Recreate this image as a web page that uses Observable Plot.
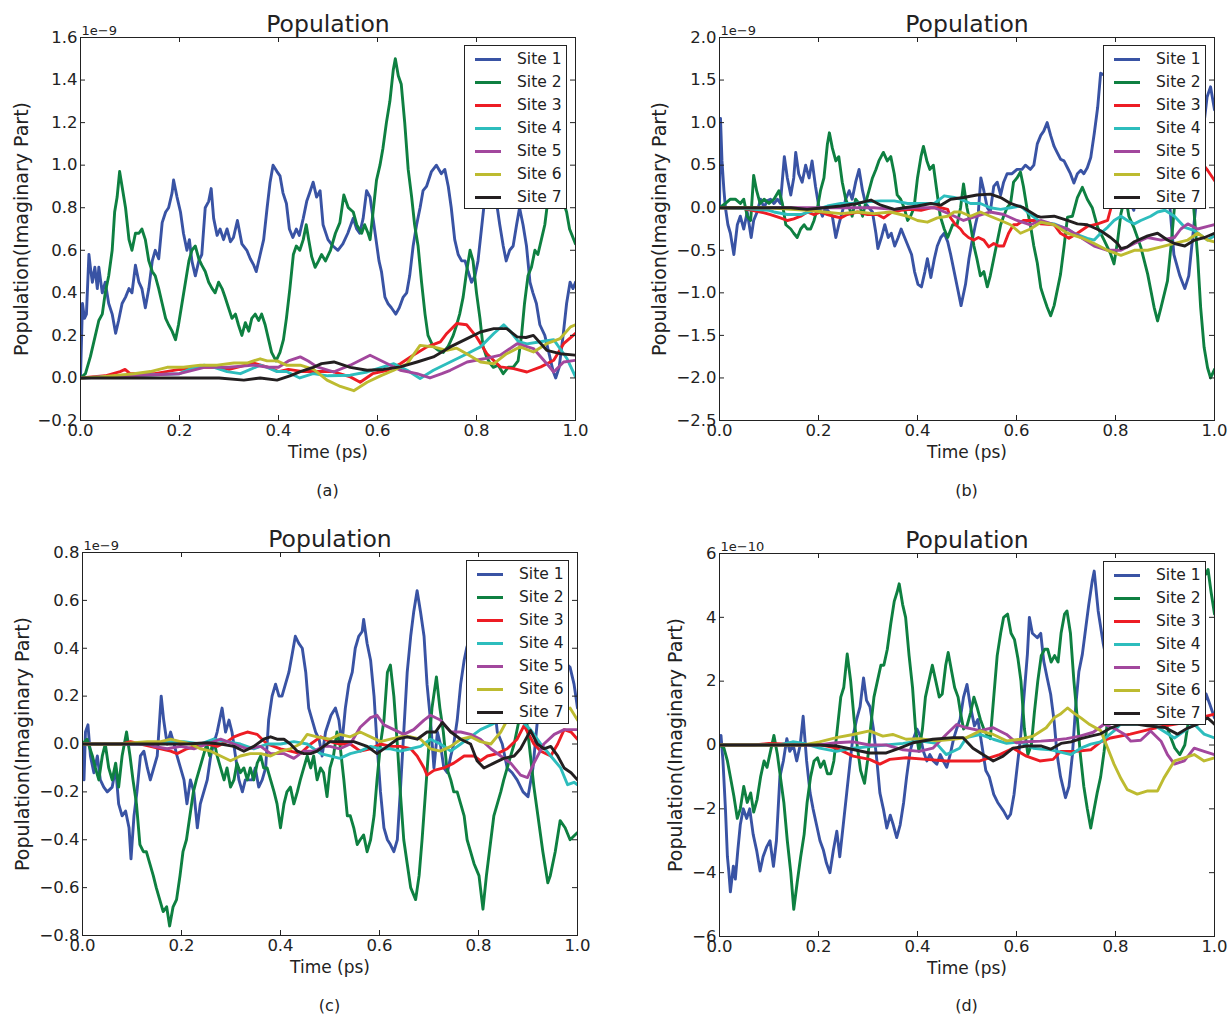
<!DOCTYPE html>
<html><head><meta charset="utf-8">
<script src="https://cdn.jsdelivr.net/npm/d3@7"></script>
<script src="https://cdn.jsdelivr.net/npm/@observablehq/plot@0.6"></script>
<style>
html,body{margin:0;padding:0;background:#fff;}
#page{position:relative;width:1228px;height:1016px;overflow:hidden;background:#fff;font-family:"DejaVu Sans",sans-serif;color:#222;}
.panel{position:absolute;}
.legend{position:absolute;background:#fff;border:1px solid #222;box-sizing:border-box;}
.legend .row{position:absolute;left:0;height:23px;width:100%;}
.legend .sw{position:absolute;left:10px;width:26px;height:3px;top:10px;}
.legend .lb{position:absolute;left:52px;top:1px;font-size:15.5px;line-height:20px;white-space:nowrap;}
.caption{position:absolute;font-size:16px;transform:translate(-50%,-50%);}
</style></head><body><div id="page"></div>
<script>
// ---- shared ----
const sites = ["Site 1","Site 2","Site 3","Site 4","Site 5","Site 6","Site 7"];
const colors = ["#3953a4","#0e8041","#ed1c24","#2dbdbd","#a2479d","#bdbb30","#231f20"];
const xTicks = [0,0.2,0.4,0.6,0.8,1.0];
const aYTicks = [-0.2,0,0.2,0.4,0.6,0.8,1.0,1.2,1.4,1.6];
const bYTicks = [-2.5,-2.0,-1.5,-1.0,-0.5,0,0.5,1.0,1.5,2.0];
const cYTicks = [-0.8,-0.6,-0.4,-0.2,0,0.2,0.4,0.6,0.8];
const dYTicks = [-6,-4,-2,0,2,4,6];

// ---- panel (a): [time ps, value in 1e-9] ----
const aS1 = [[0,0],[0.004,0.35],[0.008,0.28],[0.012,0.3],[0.017,0.58],[0.021,0.5],[0.024,0.45],[0.029,0.52],[0.034,0.42],[0.037,0.52],[0.044,0.40],[0.05,0.45],[0.057,0.35],[0.064,0.30],[0.071,0.21],[0.077,0.27],[0.084,0.35],[0.091,0.38],[0.098,0.42],[0.104,0.40],[0.111,0.53],[0.118,0.45],[0.124,0.42],[0.131,0.33],[0.138,0.42],[0.145,0.55],[0.151,0.60],[0.158,0.56],[0.165,0.73],[0.172,0.78],[0.178,0.80],[0.185,0.87],[0.188,0.93],[0.195,0.85],[0.202,0.78],[0.208,0.68],[0.215,0.60],[0.22,0.65],[0.225,0.55],[0.232,0.48],[0.239,0.55],[0.245,0.58],[0.252,0.80],[0.259,0.83],[0.264,0.89],[0.269,0.75],[0.276,0.67],[0.282,0.70],[0.289,0.65],[0.296,0.70],[0.303,0.64],[0.309,0.66],[0.317,0.74],[0.326,0.63],[0.336,0.60],[0.343,0.56],[0.35,0.53],[0.355,0.50],[0.363,0.58],[0.37,0.65],[0.377,0.80],[0.383,0.92],[0.389,1.00],[0.397,0.97],[0.403,0.95],[0.409,0.87],[0.416,0.82],[0.422,0.70],[0.429,0.66],[0.436,0.70],[0.442,0.67],[0.45,0.75],[0.457,0.83],[0.463,0.87],[0.47,0.92],[0.477,0.85],[0.484,0.88],[0.49,0.72],[0.5,0.65],[0.51,0.62],[0.52,0.60],[0.53,0.63],[0.54,0.68],[0.551,0.75],[0.558,0.70],[0.564,0.68],[0.571,0.75],[0.578,0.88],[0.585,0.85],[0.591,0.75],[0.597,0.65],[0.603,0.55],[0.608,0.50],[0.615,0.38],[0.621,0.35],[0.628,0.33],[0.637,0.30],[0.644,0.33],[0.652,0.38],[0.659,0.40],[0.665,0.48],[0.672,0.62],[0.679,0.72],[0.686,0.80],[0.692,0.88],[0.699,0.90],[0.709,0.97],[0.719,1.00],[0.729,0.96],[0.736,0.98],[0.743,0.90],[0.749,0.80],[0.756,0.65],[0.763,0.58],[0.77,0.55],[0.777,0.55],[0.783,0.50],[0.79,0.45],[0.797,0.48],[0.803,0.55],[0.81,0.70],[0.817,0.85],[0.825,0.92],[0.835,0.88],[0.842,0.8],[0.847,0.72],[0.854,0.62],[0.86,0.55],[0.867,0.60],[0.874,0.62],[0.881,0.72],[0.887,0.80],[0.894,0.72],[0.901,0.62],[0.908,0.45],[0.914,0.40],[0.921,0.35],[0.928,0.25],[0.938,0.20],[0.948,0.10],[0.955,0.03],[0.96,0.0],[0.967,0.05],[0.975,0.20],[0.982,0.35],[0.989,0.45],[0.995,0.42],[1.0,0.45]];
const aS2 = [[0,0],[0.01,0.02],[0.02,0.1],[0.03,0.2],[0.037,0.27],[0.044,0.30],[0.05,0.40],[0.057,0.48],[0.064,0.60],[0.069,0.78],[0.074,0.85],[0.079,0.97],[0.084,0.90],[0.091,0.80],[0.098,0.65],[0.104,0.60],[0.111,0.68],[0.118,0.68],[0.124,0.70],[0.131,0.65],[0.138,0.55],[0.145,0.50],[0.151,0.48],[0.158,0.42],[0.165,0.35],[0.172,0.28],[0.178,0.25],[0.185,0.22],[0.192,0.18],[0.198,0.25],[0.205,0.35],[0.212,0.45],[0.219,0.55],[0.225,0.60],[0.232,0.62],[0.239,0.56],[0.245,0.53],[0.252,0.50],[0.259,0.45],[0.266,0.42],[0.272,0.40],[0.279,0.45],[0.286,0.42],[0.292,0.38],[0.299,0.33],[0.306,0.28],[0.313,0.30],[0.319,0.25],[0.326,0.20],[0.333,0.26],[0.34,0.22],[0.346,0.28],[0.353,0.30],[0.36,0.27],[0.366,0.30],[0.373,0.25],[0.38,0.18],[0.386,0.12],[0.395,0.08],[0.403,0.12],[0.41,0.18],[0.416,0.28],[0.423,0.42],[0.43,0.58],[0.436,0.62],[0.443,0.60],[0.45,0.65],[0.456,0.72],[0.461,0.65],[0.467,0.57],[0.474,0.52],[0.481,0.55],[0.487,0.58],[0.495,0.55],[0.505,0.60],[0.515,0.68],[0.524,0.73],[0.532,0.86],[0.541,0.80],[0.551,0.78],[0.558,0.72],[0.568,0.68],[0.574,0.72],[0.581,0.68],[0.585,0.65],[0.591,0.78],[0.598,0.93],[0.605,1.0],[0.611,1.08],[0.618,1.20],[0.625,1.30],[0.632,1.45],[0.636,1.50],[0.642,1.42],[0.648,1.38],[0.655,1.20],[0.662,0.98],[0.669,0.85],[0.675,0.72],[0.682,0.62],[0.689,0.45],[0.696,0.30],[0.702,0.20],[0.712,0.15],[0.723,0.13],[0.733,0.12],[0.743,0.15],[0.753,0.20],[0.76,0.25],[0.766,0.30],[0.773,0.38],[0.78,0.50],[0.787,0.60],[0.793,0.55],[0.8,0.40],[0.807,0.28],[0.813,0.15],[0.82,0.10],[0.827,0.07],[0.834,0.05],[0.844,0.06],[0.854,0.02],[0.864,0.05],[0.874,0.05],[0.884,0.08],[0.891,0.20],[0.897,0.35],[0.904,0.48],[0.911,0.52],[0.918,0.60],[0.924,0.58],[0.931,0.65],[0.938,0.72],[0.945,0.85],[0.955,0.90],[0.968,0.88],[0.982,0.78],[0.988,0.70],[1.0,0.63]];
const aS3 = [[0,0],[0.05,0.01],[0.08,0.03],[0.09,0.04],[0.1,0.02],[0.15,0.02],[0.2,0.04],[0.25,0.05],[0.28,0.05],[0.3,0.04],[0.35,0.07],[0.38,0.05],[0.4,0.03],[0.42,0.04],[0.45,0.03],[0.48,0.03],[0.51,0.03],[0.545,0.005],[0.565,-0.02],[0.59,0.02],[0.62,0.036],[0.646,0.067],[0.672,0.107],[0.7,0.146],[0.727,0.17],[0.74,0.209],[0.76,0.256],[0.78,0.25],[0.8,0.193],[0.821,0.114],[0.848,0.052],[0.875,0.044],[0.902,0.028],[0.93,0.052],[0.956,0.083],[0.976,0.161],[1.0,0.209]];
const aS4 = [[0,0],[0.1,0.01],[0.2,0.02],[0.22,0.04],[0.25,0.06],[0.27,0.05],[0.296,0.03],[0.323,0.02],[0.363,0.06],[0.377,0.05],[0.397,0.03],[0.416,0.03],[0.443,0.0],[0.47,0.02],[0.5,0.01],[0.545,0.013],[0.579,0.028],[0.633,0.067],[0.66,0.036],[0.686,-0.003],[0.713,0.036],[0.747,0.075],[0.781,0.114],[0.808,0.146],[0.835,0.209],[0.855,0.25],[0.868,0.22],[0.885,0.17],[0.902,0.16],[0.929,0.17],[0.956,0.18],[0.983,0.09],[1.0,0.005]];
const aS5 = [[0,0],[0.1,0.01],[0.2,0.02],[0.25,0.05],[0.3,0.05],[0.35,0.06],[0.38,0.05],[0.4,0.05],[0.42,0.08],[0.444,0.099],[0.46,0.08],[0.478,0.052],[0.511,0.028],[0.545,0.06],[0.585,0.107],[0.62,0.067],[0.646,0.036],[0.68,0.02],[0.706,0.0],[0.73,0.02],[0.747,0.036],[0.781,0.075],[0.815,0.09],[0.848,0.107],[0.882,0.161],[0.915,0.138],[0.942,0.067],[0.956,0.028],[0.976,0.075],[1.0,0.083]];
const aS6 = [[0,0],[0.04,0.005],[0.108,0.02],[0.141,0.03],[0.175,0.05],[0.208,0.05],[0.242,0.06],[0.276,0.06],[0.31,0.07],[0.336,0.07],[0.363,0.09],[0.377,0.08],[0.397,0.08],[0.416,0.06],[0.444,0.06],[0.471,0.04],[0.498,-0.01],[0.525,-0.04],[0.552,-0.06],[0.579,-0.02],[0.606,0.01],[0.633,0.036],[0.66,0.067],[0.686,0.153],[0.713,0.146],[0.74,0.13],[0.76,0.14],[0.78,0.114],[0.808,0.075],[0.835,0.067],[0.861,0.114],[0.888,0.146],[0.915,0.122],[0.942,0.161],[0.969,0.185],[0.99,0.24],[1.0,0.25]];
const aS7 = [[0,0],[0.2,0.0],[0.24,0.0],[0.28,0.0],[0.33,-0.01],[0.363,0.0],[0.397,-0.01],[0.423,0.01],[0.444,0.03],[0.47,0.05],[0.487,0.067],[0.512,0.075],[0.545,0.05],[0.579,0.036],[0.612,0.04],[0.646,0.052],[0.68,0.075],[0.713,0.099],[0.747,0.146],[0.781,0.185],[0.808,0.216],[0.835,0.232],[0.861,0.232],[0.882,0.193],[0.9,0.19],[0.915,0.2],[0.942,0.13],[0.969,0.114],[1.0,0.107]];

// ---- panel (b): [time ps, value in 1e-9] ----
const bS1 = [[0,0],[0.002,1.05],[0.005,0.55],[0.009,0.2],[0.012,0.0],[0.017,-0.2],[0.022,-0.3],[0.029,-0.55],[0.036,-0.2],[0.042,-0.1],[0.049,-0.25],[0.056,-0.05],[0.064,-0.35],[0.069,-0.15],[0.076,-0.05],[0.083,0.1],[0.09,0.0],[0.096,0.08],[0.103,0.1],[0.11,0.05],[0.117,0.1],[0.123,0.05],[0.131,0.6],[0.137,0.35],[0.144,0.15],[0.15,0.35],[0.154,0.65],[0.16,0.4],[0.167,0.3],[0.174,0.5],[0.181,0.35],[0.187,0.55],[0.194,0.25],[0.201,0.0],[0.208,-0.1],[0.214,0.0],[0.221,-0.05],[0.228,-0.1],[0.235,-0.35],[0.241,-0.2],[0.248,-0.05],[0.255,0.1],[0.262,0.2],[0.268,0.1],[0.275,0.3],[0.282,0.45],[0.289,0.2],[0.295,0.05],[0.302,0.0],[0.309,-0.05],[0.316,-0.3],[0.32,-0.48],[0.327,-0.35],[0.334,-0.2],[0.341,-0.35],[0.347,-0.3],[0.354,-0.45],[0.361,-0.35],[0.367,-0.25],[0.374,-0.35],[0.381,-0.45],[0.388,-0.55],[0.394,-0.75],[0.401,-0.9],[0.408,-0.93],[0.415,-0.75],[0.42,-0.6],[0.427,-0.82],[0.434,-0.6],[0.44,-0.45],[0.447,-0.35],[0.454,-0.3],[0.461,-0.4],[0.467,-0.55],[0.474,-0.75],[0.481,-0.95],[0.488,-1.15],[0.497,-0.9],[0.504,-0.6],[0.51,-0.4],[0.517,-0.2],[0.523,-0.05],[0.528,0.35],[0.534,0.2],[0.541,0.0],[0.547,-0.05],[0.554,0.25],[0.561,0.3],[0.568,0.15],[0.574,0.3],[0.581,0.4],[0.591,0.4],[0.601,0.45],[0.611,0.45],[0.618,0.5],[0.628,0.45],[0.635,0.5],[0.642,0.75],[0.649,0.85],[0.655,0.9],[0.662,1.0],[0.669,0.85],[0.676,0.72],[0.682,0.65],[0.689,0.57],[0.696,0.55],[0.703,0.47],[0.709,0.4],[0.716,0.29],[0.723,0.4],[0.73,0.44],[0.736,0.4],[0.743,0.47],[0.75,0.59],[0.757,0.87],[0.764,1.18],[0.77,1.58],[0.78,1.55],[0.79,1.4],[0.8,1.0],[0.81,0.6],[0.82,0.3],[0.83,0.05],[0.837,-0.03],[0.845,0.3],[0.86,0.8],[0.875,0.7],[0.89,0.5],[0.9,0.35],[0.91,0.0],[0.918,-0.55],[0.93,-0.8],[0.94,-0.95],[0.948,-0.8],[0.955,-0.4],[0.962,0.0],[0.975,0.8],[0.985,1.3],[0.992,1.42],[1.0,1.15]];
const bS2 = [[0,0],[0.012,0.05],[0.022,0.1],[0.032,0.1],[0.042,0.05],[0.049,0.1],[0.056,-0.1],[0.063,-0.15],[0.069,0.38],[0.075,0.2],[0.082,0.05],[0.09,0.1],[0.1,0.05],[0.11,0.1],[0.12,0.2],[0.127,0.05],[0.134,-0.2],[0.144,-0.25],[0.15,-0.3],[0.157,-0.35],[0.164,-0.25],[0.171,-0.2],[0.177,-0.25],[0.184,-0.25],[0.191,-0.15],[0.198,0.0],[0.204,0.2],[0.211,0.35],[0.218,0.75],[0.222,0.88],[0.228,0.7],[0.235,0.55],[0.241,0.6],[0.248,0.3],[0.255,0.1],[0.262,0.0],[0.268,-0.1],[0.275,0.1],[0.282,0.05],[0.289,-0.1],[0.295,0.05],[0.302,0.2],[0.309,0.35],[0.316,0.45],[0.322,0.55],[0.331,0.65],[0.339,0.55],[0.346,0.6],[0.353,0.4],[0.359,0.15],[0.366,0.1],[0.373,0.0],[0.38,-0.15],[0.386,-0.1],[0.393,0.0],[0.4,0.35],[0.407,0.6],[0.412,0.72],[0.419,0.55],[0.425,0.45],[0.432,0.5],[0.439,0.2],[0.446,-0.1],[0.454,-0.25],[0.461,-0.35],[0.471,-0.2],[0.48,-0.2],[0.487,0.0],[0.493,0.28],[0.5,0.0],[0.507,-0.2],[0.514,-0.45],[0.52,-0.6],[0.527,-0.8],[0.534,-0.75],[0.541,-0.93],[0.547,-0.8],[0.554,-0.6],[0.561,-0.4],[0.568,-0.2],[0.574,-0.1],[0.581,0.0],[0.588,0.05],[0.594,0.3],[0.601,0.35],[0.608,0.42],[0.614,0.25],[0.621,0.0],[0.628,-0.2],[0.635,-0.45],[0.642,-0.65],[0.649,-0.94],[0.655,-1.05],[0.662,-1.17],[0.669,-1.27],[0.676,-1.15],[0.689,-0.78],[0.696,-0.46],[0.703,-0.11],[0.713,-0.1],[0.723,0.12],[0.733,0.24],[0.743,0.1],[0.753,0.0],[0.764,-0.23],[0.777,-0.38],[0.79,-0.54],[0.797,-0.66],[0.804,-0.4],[0.811,-0.07],[0.82,0.15],[0.827,-0.1],[0.837,-0.23],[0.851,-0.46],[0.865,-0.78],[0.878,-1.17],[0.885,-1.33],[0.892,-1.17],[0.905,-0.86],[0.912,-0.46],[0.919,0.0],[0.93,0.25],[0.945,0.3],[0.958,0.0],[0.966,-0.58],[0.972,-1.17],[0.979,-1.64],[0.986,-1.88],[0.992,-2.0],[1.0,-1.9]];
const bS3 = [[0,0],[0.05,-0.01],[0.056,-0.02],[0.083,-0.05],[0.103,-0.08],[0.123,-0.12],[0.137,-0.15],[0.15,-0.13],[0.164,-0.1],[0.177,-0.05],[0.191,-0.08],[0.204,-0.05],[0.218,-0.08],[0.231,-0.1],[0.245,-0.12],[0.258,-0.08],[0.279,-0.05],[0.299,-0.08],[0.319,-0.08],[0.332,-0.12],[0.346,-0.06],[0.366,-0.03],[0.386,-0.02],[0.407,-0.03],[0.427,0.0],[0.447,0.0],[0.461,-0.02],[0.467,-0.12],[0.477,-0.2],[0.487,-0.25],[0.493,-0.3],[0.503,-0.35],[0.514,-0.38],[0.523,-0.35],[0.534,-0.38],[0.544,-0.46],[0.554,-0.42],[0.564,-0.45],[0.574,-0.45],[0.584,-0.3],[0.594,-0.2],[0.601,-0.2],[0.614,-0.15],[0.628,-0.15],[0.642,-0.15],[0.649,-0.19],[0.676,-0.2],[0.689,-0.3],[0.706,-0.36],[0.723,-0.3],[0.743,-0.22],[0.764,-0.19],[0.784,-0.15],[0.791,0.0],[0.8,0.2],[0.83,0.5],[0.9,0.8],[0.95,0.7],[0.986,0.44],[1.0,0.32]];
const bS4 = [[0,0],[0.05,-0.01],[0.1,-0.03],[0.11,-0.05],[0.137,-0.08],[0.164,-0.08],[0.191,-0.03],[0.218,0.02],[0.245,0.05],[0.272,0.05],[0.299,0.07],[0.326,0.08],[0.353,0.08],[0.38,0.05],[0.407,0.05],[0.434,0.05],[0.454,0.14],[0.474,0.12],[0.487,0.1],[0.507,0.05],[0.527,0.05],[0.547,0.0],[0.568,-0.02],[0.588,0.0],[0.608,0.02],[0.628,-0.08],[0.649,-0.17],[0.676,-0.19],[0.703,-0.25],[0.716,-0.3],[0.743,-0.36],[0.757,-0.38],[0.77,-0.3],[0.784,-0.23],[0.797,-0.15],[0.811,-0.1],[0.824,-0.15],[0.838,-0.19],[0.851,-0.15],[0.871,-0.1],[0.885,-0.05],[0.9,-0.03],[0.919,-0.1],[0.94,-0.23],[0.96,-0.27],[0.986,-0.38],[1.0,-0.33]];
const bS5 = [[0,0],[0.3,0.0],[0.312,0.0],[0.353,-0.02],[0.393,0.0],[0.434,0.0],[0.467,-0.08],[0.493,-0.15],[0.52,-0.1],[0.547,-0.05],[0.574,-0.08],[0.601,-0.15],[0.628,-0.2],[0.649,-0.15],[0.676,-0.2],[0.703,-0.25],[0.73,-0.35],[0.757,-0.45],[0.784,-0.5],[0.811,-0.5],[0.838,-0.42],[0.865,-0.35],[0.892,-0.38],[0.919,-0.35],[0.932,-0.25],[0.946,-0.19],[0.966,-0.25],[0.986,-0.22],[1.0,-0.2]];
const bS6 = [[0,0],[0.1,0.0],[0.144,-0.02],[0.177,-0.03],[0.211,-0.05],[0.245,-0.07],[0.279,-0.05],[0.312,-0.07],[0.346,-0.05],[0.38,-0.1],[0.4,-0.15],[0.42,-0.17],[0.44,-0.12],[0.461,-0.1],[0.474,-0.05],[0.487,-0.05],[0.507,-0.1],[0.527,-0.05],[0.547,-0.1],[0.568,-0.15],[0.588,-0.2],[0.608,-0.3],[0.628,-0.25],[0.649,-0.17],[0.676,-0.2],[0.703,-0.3],[0.73,-0.35],[0.757,-0.42],[0.784,-0.5],[0.811,-0.56],[0.838,-0.5],[0.865,-0.5],[0.892,-0.46],[0.919,-0.42],[0.946,-0.38],[0.966,-0.3],[0.986,-0.38],[1.0,-0.4]];
const bS7 = [[0,0],[0.144,0.0],[0.177,-0.02],[0.211,0.0],[0.245,0.02],[0.279,0.05],[0.306,0.09],[0.326,0.03],[0.353,-0.02],[0.373,0.0],[0.4,0.02],[0.427,0.05],[0.447,0.03],[0.467,0.1],[0.493,0.12],[0.52,0.15],[0.547,0.16],[0.568,0.12],[0.588,0.05],[0.614,0.0],[0.642,-0.1],[0.649,-0.11],[0.676,-0.1],[0.703,-0.15],[0.723,-0.19],[0.743,-0.2],[0.77,-0.27],[0.79,-0.35],[0.804,-0.42],[0.811,-0.48],[0.824,-0.46],[0.838,-0.4],[0.865,-0.33],[0.885,-0.3],[0.905,-0.38],[0.919,-0.42],[0.94,-0.45],[0.96,-0.38],[0.98,-0.35],[1.0,-0.3]];

// ---- panel (c): [time ps, value in 1e-9] ----
const cS1 = [[0,0],[0.003,-0.15],[0.006,0.05],[0.011,0.08],[0.016,-0.05],[0.023,-0.12],[0.03,-0.05],[0.036,-0.15],[0.043,-0.18],[0.05,-0.2],[0.06,-0.18],[0.067,-0.1],[0.073,-0.25],[0.08,-0.3],[0.087,-0.28],[0.094,-0.35],[0.098,-0.48],[0.104,-0.3],[0.11,-0.2],[0.117,-0.05],[0.124,-0.03],[0.131,-0.1],[0.137,-0.15],[0.144,-0.1],[0.151,-0.05],[0.159,0.2],[0.164,0.1],[0.171,0.0],[0.178,0.05],[0.185,0.0],[0.191,-0.05],[0.198,-0.1],[0.205,-0.15],[0.211,-0.25],[0.218,-0.15],[0.225,-0.2],[0.232,-0.35],[0.238,-0.25],[0.245,-0.2],[0.252,-0.15],[0.259,-0.05],[0.265,0.0],[0.272,0.05],[0.282,0.15],[0.289,0.05],[0.296,0.1],[0.302,0.05],[0.309,-0.05],[0.316,-0.15],[0.323,-0.2],[0.329,-0.15],[0.336,-0.15],[0.343,-0.15],[0.349,-0.1],[0.356,-0.18],[0.363,-0.15],[0.37,-0.1],[0.376,0.1],[0.383,0.2],[0.39,0.25],[0.397,0.2],[0.403,0.2],[0.41,0.25],[0.417,0.3],[0.424,0.38],[0.43,0.45],[0.437,0.42],[0.444,0.4],[0.451,0.3],[0.457,0.15],[0.464,0.1],[0.471,0.05],[0.478,0.02],[0.484,-0.05],[0.491,0.05],[0.502,0.12],[0.511,0.15],[0.518,0.1],[0.524,0.0],[0.531,0.15],[0.538,0.25],[0.545,0.3],[0.551,0.4],[0.558,0.45],[0.565,0.47],[0.568,0.52],[0.575,0.42],[0.582,0.35],[0.589,0.2],[0.595,0.0],[0.602,-0.2],[0.609,-0.35],[0.616,-0.4],[0.622,-0.42],[0.629,-0.45],[0.636,-0.4],[0.642,-0.2],[0.649,0.05],[0.656,0.3],[0.663,0.45],[0.669,0.55],[0.676,0.64],[0.683,0.55],[0.69,0.45],[0.696,0.25],[0.703,0.1],[0.71,-0.1],[0.717,0.05],[0.723,0.0],[0.73,-0.1],[0.737,-0.12],[0.744,-0.05],[0.75,0.0],[0.757,0.1],[0.764,0.25],[0.771,0.35],[0.776,0.4],[0.79,0.5],[0.81,0.55],[0.825,0.3],[0.838,0.05],[0.848,0.0],[0.858,-0.1],[0.868,-0.12],[0.878,-0.15],[0.89,-0.2],[0.9,-0.22],[0.91,-0.1],[0.92,0.12],[0.93,0.3],[0.95,0.4],[0.97,0.35],[0.985,0.32],[0.993,0.25],[1.0,0.15]];
const cS2 = [[0,0],[0.009,0.02],[0.02,-0.05],[0.026,-0.1],[0.033,-0.15],[0.04,-0.05],[0.046,0.0],[0.053,-0.1],[0.06,-0.15],[0.067,-0.08],[0.073,-0.18],[0.08,-0.05],[0.089,0.05],[0.096,-0.05],[0.102,-0.15],[0.109,-0.25],[0.116,-0.42],[0.123,-0.45],[0.129,-0.45],[0.136,-0.5],[0.143,-0.55],[0.149,-0.6],[0.156,-0.65],[0.163,-0.7],[0.17,-0.68],[0.176,-0.76],[0.183,-0.68],[0.19,-0.65],[0.197,-0.55],[0.203,-0.45],[0.21,-0.4],[0.217,-0.3],[0.224,-0.2],[0.23,-0.15],[0.237,-0.1],[0.244,-0.05],[0.251,0.0],[0.257,-0.05],[0.265,0.02],[0.272,-0.05],[0.279,-0.1],[0.286,-0.15],[0.292,-0.1],[0.299,-0.18],[0.306,-0.15],[0.312,-0.08],[0.319,-0.12],[0.326,-0.1],[0.333,-0.15],[0.339,-0.1],[0.346,-0.15],[0.353,-0.08],[0.36,-0.05],[0.366,-0.1],[0.373,-0.1],[0.38,-0.15],[0.387,-0.2],[0.393,-0.25],[0.4,-0.35],[0.407,-0.25],[0.413,-0.2],[0.42,-0.18],[0.427,-0.25],[0.434,-0.2],[0.44,-0.15],[0.447,-0.1],[0.454,-0.05],[0.461,-0.1],[0.467,-0.05],[0.474,-0.15],[0.481,-0.1],[0.487,-0.12],[0.494,-0.22],[0.5,-0.1],[0.507,-0.05],[0.514,0.05],[0.52,0.0],[0.528,-0.15],[0.535,-0.3],[0.541,-0.3],[0.548,-0.35],[0.555,-0.42],[0.561,-0.4],[0.568,-0.38],[0.575,-0.45],[0.582,-0.4],[0.589,-0.3],[0.595,-0.15],[0.602,0.0],[0.609,0.1],[0.616,0.3],[0.622,0.33],[0.629,0.2],[0.636,0.0],[0.642,-0.2],[0.649,-0.4],[0.656,-0.5],[0.663,-0.6],[0.673,-0.65],[0.68,-0.55],[0.686,-0.4],[0.693,-0.2],[0.7,0.0],[0.706,0.15],[0.715,0.28],[0.722,0.15],[0.729,0.05],[0.736,-0.1],[0.744,-0.15],[0.75,-0.2],[0.757,-0.2],[0.764,-0.25],[0.771,-0.3],[0.777,-0.4],[0.784,-0.45],[0.791,-0.5],[0.801,-0.55],[0.809,-0.69],[0.816,-0.55],[0.825,-0.4],[0.831,-0.3],[0.838,-0.25],[0.845,-0.2],[0.851,-0.15],[0.858,-0.1],[0.865,-0.05],[0.872,0.0],[0.882,0.1],[0.889,0.15],[0.897,0.1],[0.905,-0.05],[0.912,-0.18],[0.92,-0.3],[0.93,-0.45],[0.94,-0.58],[0.945,-0.55],[0.955,-0.45],[0.965,-0.32],[0.975,-0.35],[0.985,-0.4],[1.0,-0.37]];
const cS3 = [[0,0],[0.08,0.0],[0.097,0.01],[0.117,0.0],[0.137,-0.01],[0.158,-0.02],[0.178,-0.03],[0.191,-0.04],[0.211,-0.02],[0.232,-0.01],[0.252,0.0],[0.272,-0.01],[0.292,0.01],[0.306,0.03],[0.319,0.04],[0.333,0.05],[0.353,0.04],[0.373,0.0],[0.4,-0.02],[0.42,-0.03],[0.44,-0.04],[0.461,0.0],[0.481,0.03],[0.5,0.01],[0.52,0.0],[0.541,0.0],[0.561,-0.03],[0.582,-0.02],[0.602,0.0],[0.622,-0.01],[0.642,-0.01],[0.663,-0.02],[0.676,-0.05],[0.69,-0.1],[0.696,-0.13],[0.71,-0.11],[0.73,-0.1],[0.75,-0.08],[0.771,-0.05],[0.791,-0.05],[0.804,-0.07],[0.818,-0.05],[0.838,-0.04],[0.858,-0.02],[0.878,0.02],[0.892,0.077],[0.912,0.0],[0.926,-0.03],[0.946,-0.05],[0.96,0.0],[0.973,0.06],[0.987,0.05],[1.0,0.02]];
const cS4 = [[0,0],[0.15,0.0],[0.171,0.01],[0.205,0.01],[0.238,0.0],[0.265,0.02],[0.292,0.01],[0.319,0.0],[0.346,-0.02],[0.373,0.0],[0.4,0.0],[0.427,0.01],[0.454,0.0],[0.481,-0.04],[0.5,-0.05],[0.52,-0.06],[0.541,-0.04],[0.561,-0.03],[0.582,-0.01],[0.602,-0.02],[0.622,-0.02],[0.642,-0.03],[0.663,-0.02],[0.683,-0.01],[0.703,0.02],[0.723,0.0],[0.744,-0.03],[0.764,0.0],[0.784,0.03],[0.804,0.06],[0.825,0.08],[0.845,0.1],[0.865,0.12],[0.885,0.1],[0.905,0.06],[0.926,0.0],[0.946,-0.05],[0.966,-0.1],[0.98,-0.17],[0.993,-0.16],[1.0,-0.17]];
const cS5 = [[0,0],[0.13,0.0],[0.144,-0.01],[0.171,-0.02],[0.198,-0.01],[0.225,-0.02],[0.252,0.0],[0.279,0.02],[0.306,0.0],[0.333,-0.02],[0.36,-0.01],[0.38,-0.04],[0.407,-0.04],[0.427,-0.06],[0.447,-0.03],[0.467,-0.03],[0.487,-0.01],[0.5,-0.01],[0.52,-0.02],[0.541,0.0],[0.561,0.07],[0.582,0.11],[0.595,0.12],[0.609,0.08],[0.629,0.06],[0.649,0.04],[0.669,0.06],[0.69,0.1],[0.703,0.12],[0.723,0.1],[0.744,0.05],[0.764,0.05],[0.784,0.04],[0.804,0.02],[0.825,-0.02],[0.845,-0.05],[0.865,-0.08],[0.885,-0.13],[0.899,-0.14],[0.912,-0.08],[0.932,0.0],[0.953,0.04],[0.973,0.06],[1.0,0.06]];
const cS6 = [[0,0],[0.08,0.0],[0.104,0.005],[0.131,0.01],[0.158,0.01],[0.178,0.02],[0.198,0.01],[0.218,0.0],[0.238,-0.02],[0.259,-0.03],[0.279,-0.05],[0.299,-0.07],[0.319,-0.05],[0.339,-0.04],[0.36,-0.04],[0.38,-0.05],[0.4,-0.03],[0.42,-0.02],[0.44,0.0],[0.454,0.04],[0.474,0.03],[0.5,0.02],[0.52,0.04],[0.541,0.03],[0.561,0.05],[0.582,0.03],[0.602,0.01],[0.622,0.02],[0.642,0.03],[0.663,0.03],[0.683,0.02],[0.703,-0.02],[0.723,-0.03],[0.744,-0.01],[0.764,0.02],[0.784,0.03],[0.804,0.01],[0.825,0.0],[0.845,0.05],[0.858,0.1],[0.9,0.1],[0.95,0.12],[0.985,0.15],[1.0,0.1]];
const cS7 = [[0,0],[0.15,0.0],[0.211,0.0],[0.252,0.005],[0.279,0.0],[0.306,-0.01],[0.326,-0.03],[0.346,-0.01],[0.366,0.02],[0.38,0.03],[0.393,0.02],[0.407,0.02],[0.42,0.0],[0.434,-0.03],[0.447,-0.04],[0.461,-0.04],[0.474,-0.03],[0.487,-0.01],[0.5,0.01],[0.52,0.01],[0.548,0.01],[0.575,-0.01],[0.595,-0.04],[0.616,-0.01],[0.636,0.02],[0.656,0.03],[0.676,0.02],[0.696,0.05],[0.713,0.05],[0.727,0.09],[0.744,0.05],[0.764,0.02],[0.784,0.0],[0.797,-0.07],[0.811,-0.1],[0.831,-0.08],[0.851,-0.06],[0.872,-0.05],[0.885,-0.02],[0.905,0.056],[0.919,0.0],[0.932,-0.02],[0.946,-0.01],[0.96,-0.05],[0.973,-0.1],[0.987,-0.12],[1.0,-0.15]];

// ---- panel (d): [time ps, value in 1e-10] ----
const dS1 = [[0,0],[0.003,0.3],[0.007,-0.5],[0.012,-2.0],[0.016,-3.5],[0.019,-4.0],[0.022,-4.6],[0.028,-3.8],[0.032,-4.2],[0.037,-3.3],[0.042,-2.5],[0.048,-2.0],[0.055,-2.3],[0.061,-2.0],[0.068,-2.8],[0.075,-3.3],[0.082,-3.95],[0.088,-3.5],[0.095,-3.2],[0.102,-3.0],[0.109,-3.8],[0.115,-3.0],[0.122,-1.0],[0.129,-0.5],[0.136,0.2],[0.142,-0.2],[0.149,0.0],[0.156,-0.5],[0.163,0.0],[0.169,0.9],[0.176,-0.5],[0.183,-1.5],[0.189,-2.0],[0.196,-2.5],[0.203,-3.0],[0.21,-3.3],[0.216,-3.7],[0.223,-4.0],[0.23,-3.3],[0.237,-2.7],[0.243,-3.5],[0.25,-2.5],[0.257,-1.5],[0.264,-0.5],[0.27,0.3],[0.277,0.8],[0.284,1.2],[0.291,2.1],[0.297,1.4],[0.304,1.2],[0.311,0.5],[0.318,-0.5],[0.324,-1.5],[0.331,-2.0],[0.338,-2.6],[0.345,-2.2],[0.351,-2.5],[0.358,-2.9],[0.365,-2.5],[0.372,-1.8],[0.378,-1.0],[0.385,-0.2],[0.392,0.2],[0.399,0.5],[0.405,0.3],[0.412,-0.2],[0.419,-0.5],[0.425,-0.3],[0.432,-0.5],[0.439,-0.6],[0.446,-0.3],[0.452,-0.5],[0.459,-0.7],[0.466,-0.3],[0.473,0.2],[0.479,0.5],[0.486,0.8],[0.493,1.5],[0.5,1.9],[0.507,1.2],[0.515,0.6],[0.522,0.8],[0.53,0.0],[0.538,-0.8],[0.545,-1.0],[0.554,-1.55],[0.562,-1.8],[0.574,-2.07],[0.582,-2.3],[0.588,-2.17],[0.595,-1.55],[0.602,-0.6],[0.608,0.2],[0.615,1.5],[0.622,2.84],[0.626,4.0],[0.632,3.5],[0.642,3.36],[0.649,3.5],[0.655,2.63],[0.662,2.1],[0.669,1.59],[0.676,0.75],[0.682,-0.3],[0.689,-1.0],[0.699,-1.65],[0.706,-1.3],[0.713,-0.3],[0.719,1.1],[0.726,2.3],[0.733,2.84],[0.74,3.68],[0.746,4.4],[0.753,5.14],[0.757,5.45],[0.765,4.2],[0.775,3.2],[0.79,2.0],[0.8,1.5],[0.81,1.8],[0.82,2.5],[0.83,3.0],[0.84,2.5],[0.85,2.0],[0.86,1.5],[0.87,2.0],[0.88,3.0],[0.89,2.5],[0.9,2.0],[0.92,1.5],[0.94,1.8],[0.96,1.5],[0.975,1.0],[0.983,1.6],[0.99,1.3],[1.0,0.85]];
const dS2 = [[0,0],[0.009,-0.1],[0.016,-0.5],[0.022,-1.0],[0.029,-1.6],[0.036,-2.3],[0.042,-2.0],[0.049,-1.3],[0.056,-1.8],[0.063,-1.5],[0.069,-2.1],[0.076,-1.7],[0.083,-1.0],[0.09,-0.5],[0.096,-0.7],[0.103,-0.2],[0.11,0.3],[0.117,-0.3],[0.123,-1.0],[0.13,-1.8],[0.137,-3.0],[0.144,-4.0],[0.15,-5.15],[0.157,-4.3],[0.164,-3.5],[0.171,-2.8],[0.177,-1.8],[0.184,-1.0],[0.191,-0.5],[0.198,-0.4],[0.204,-0.7],[0.211,-0.5],[0.218,-0.9],[0.225,-0.9],[0.231,-0.5],[0.238,0.5],[0.245,1.5],[0.251,1.8],[0.258,2.85],[0.265,2.0],[0.272,0.8],[0.278,0.0],[0.285,-0.8],[0.293,-1.2],[0.299,-0.5],[0.305,0.5],[0.312,1.5],[0.319,2.0],[0.326,2.5],[0.332,2.5],[0.339,3.0],[0.346,3.8],[0.353,4.5],[0.359,4.8],[0.363,5.05],[0.37,4.4],[0.376,4.0],[0.383,2.8],[0.39,1.8],[0.396,0.5],[0.403,-0.2],[0.41,0.5],[0.416,1.5],[0.423,2.0],[0.43,2.5],[0.437,2.0],[0.444,1.5],[0.45,1.6],[0.457,2.5],[0.462,2.9],[0.469,2.3],[0.475,1.8],[0.482,1.5],[0.487,1.0],[0.493,0.5],[0.5,0.6],[0.507,1.0],[0.514,1.5],[0.52,1.2],[0.527,0.8],[0.534,0.5],[0.541,0.3],[0.547,0.2],[0.554,1.5],[0.561,2.8],[0.568,3.5],[0.574,4.0],[0.582,4.1],[0.589,3.5],[0.596,3.3],[0.603,2.7],[0.609,2.0],[0.616,0.5],[0.623,-0.3],[0.63,0.0],[0.636,1.0],[0.643,2.0],[0.65,2.8],[0.657,3.0],[0.663,3.0],[0.67,2.6],[0.677,2.8],[0.684,2.6],[0.69,3.5],[0.697,4.1],[0.702,4.2],[0.709,3.5],[0.716,2.0],[0.723,0.8],[0.729,-0.3],[0.736,-1.3],[0.743,-2.0],[0.75,-2.6],[0.757,-2.0],[0.763,-1.5],[0.77,-1.0],[0.777,-0.2],[0.784,0.8],[0.79,2.0],[0.8,3.0],[0.81,3.5],[0.82,3.0],[0.83,2.5],[0.84,2.0],[0.85,1.5],[0.86,1.0],[0.87,1.2],[0.88,1.5],[0.89,1.0],[0.9,0.75],[0.91,0.3],[0.92,-0.1],[0.93,-0.3],[0.94,0.0],[0.95,1.0],[0.96,3.0],[0.97,4.5],[0.98,5.3],[0.987,5.5],[0.993,4.8],[1.0,4.1]];
const dS3 = [[0,0],[0.07,0.0],[0.1,0.05],[0.13,0.03],[0.16,0.0],[0.2,0.02],[0.236,-0.1],[0.27,-0.35],[0.303,-0.45],[0.324,-0.6],[0.344,-0.45],[0.377,-0.4],[0.418,-0.45],[0.458,-0.5],[0.485,-0.5],[0.526,-0.5],[0.566,-0.3],[0.593,-0.1],[0.62,-0.35],[0.647,-0.5],[0.674,-0.45],[0.689,-0.2],[0.72,-0.2],[0.75,-0.15],[0.77,0.1],[0.79,0.22],[0.83,0.34],[0.871,0.5],[0.9,0.6],[0.94,0.7],[0.97,0.85],[1.0,0.97]];
const dS4 = [[0,0],[0.12,0.0],[0.148,0.1],[0.17,0.05],[0.202,-0.1],[0.236,-0.2],[0.27,-0.1],[0.303,-0.05],[0.337,0.0],[0.371,0.05],[0.404,0.13],[0.438,0.05],[0.458,-0.3],[0.485,-0.1],[0.499,0.23],[0.526,0.33],[0.553,0.18],[0.58,0.05],[0.607,0.1],[0.634,-0.1],[0.649,-0.13],[0.67,-0.15],[0.71,-0.3],[0.73,-0.1],[0.75,0.03],[0.77,0.1],[0.797,0.44],[0.81,0.65],[0.85,0.65],[0.88,0.6],[0.919,0.22],[0.939,0.44],[0.959,0.65],[0.979,0.34],[1.0,0.22]];
const dS5 = [[0,0],[0.2,0.0],[0.236,0.07],[0.27,0.1],[0.303,0.0],[0.337,0.0],[0.371,-0.15],[0.404,-0.2],[0.431,-0.1],[0.458,0.33],[0.479,0.64],[0.499,0.54],[0.526,0.45],[0.553,0.54],[0.58,0.33],[0.6,0.07],[0.62,0.1],[0.649,0.12],[0.674,0.15],[0.701,0.2],[0.728,0.28],[0.755,0.4],[0.777,0.65],[0.8,0.5],[0.818,0.34],[0.831,0.12],[0.851,0.15],[0.871,0.44],[0.892,0.12],[0.905,-0.3],[0.919,-0.6],[0.939,-0.5],[0.959,-0.1],[0.979,-0.2],[1.0,-0.3]];
const dS6 = [[0,0],[0.17,0.0],[0.202,0.1],[0.236,0.23],[0.27,0.33],[0.303,0.44],[0.33,0.28],[0.35,0.33],[0.377,0.18],[0.404,0.2],[0.438,0.13],[0.472,0.18],[0.499,0.23],[0.526,0.44],[0.553,0.33],[0.58,0.13],[0.607,0.18],[0.634,0.28],[0.66,0.54],[0.676,0.85],[0.688,0.96],[0.703,1.16],[0.716,1.0],[0.73,0.85],[0.748,0.64],[0.77,0.45],[0.784,-0.09],[0.797,-0.6],[0.811,-1.05],[0.824,-1.4],[0.844,-1.54],[0.865,-1.44],[0.885,-1.44],[0.898,-1.03],[0.919,-0.5],[0.939,-0.4],[0.959,-0.3],[0.979,-0.5],[1.0,-0.4]];
const dS7 = [[0,0],[0.2,0.0],[0.236,-0.03],[0.27,-0.14],[0.303,-0.25],[0.337,-0.25],[0.364,-0.1],[0.391,0.07],[0.431,0.18],[0.472,0.23],[0.492,0.23],[0.512,-0.1],[0.532,-0.3],[0.553,-0.5],[0.573,-0.35],[0.593,-0.1],[0.62,-0.03],[0.649,-0.03],[0.669,-0.13],[0.69,0.05],[0.71,0.1],[0.73,0.2],[0.75,0.28],[0.77,0.35],[0.79,0.53],[0.81,0.65],[0.845,0.65],[0.865,0.6],[0.9,0.55],[0.925,0.34],[0.946,0.53],[0.966,0.65],[0.986,0.85],[1.0,0.65]];

// ---- rendering ----
const fmt1 = d => (d < 0 ? "\u2212" : "") + Math.abs(d).toFixed(1);
const fmt0 = d => (d < 0 ? "\u2212" : "") + Math.abs(d).toFixed(0);

const panels = [
  {left:0,   top:0,   mL:80,  mR:39, mT:37, mB:50, yDomain:[-0.2,1.6], yTicks:aYTicks, fmt:fmt1, offset:"1e\u22129",  ylab:59, series:[aS1,aS2,aS3,aS4,aS5,aS6,aS7], cap:"(a)", capY:490},
  {left:614, top:0,   mL:105, mR:14, mT:37, mB:50, yDomain:[-2.5,2.0], yTicks:bYTicks, fmt:fmt1, offset:"1e\u22129",  ylab:60, series:[bS1,bS2,bS3,bS4,bS5,bS6,bS7], cap:"(b)", capY:490},
  {left:0,   top:515, mL:82,  mR:37, mT:37, mB:50, yDomain:[-0.8,0.8], yTicks:cYTicks, fmt:fmt1, offset:"1e\u22129",  ylab:60, series:[cS1,cS2,cS3,cS4,cS5,cS6,cS7], cap:"(c)", capY:1005},
  {left:614, top:515, mL:105, mR:14, mT:38, mB:49, yDomain:[-6,6],     yTicks:dYTicks, fmt:fmt0, offset:"1e\u221210", ylab:44, series:[dS1,dS2,dS3,dS4,dS5,dS6,dS7], cap:"(d)", capY:1005}
];

const page = document.getElementById("page");
const W = 614, H = 470;

for (const p of panels) {
  const rows = p.series.flatMap((s, i) => s.map(([t, v]) => ({t, v, site: sites[i]})));
  const iw = W - p.mL - p.mR, ih = H - p.mT - p.mB;
  const chart = Plot.plot({
    width: W, height: H,
    marginLeft: p.mL, marginRight: p.mR, marginTop: p.mT, marginBottom: p.mB,
    x: {domain: [0, 1]},
    y: {domain: p.yDomain},
    color: {domain: sites, range: colors},
    style: {fontFamily: "DejaVu Sans, sans-serif", fontSize: "16.5px", color: "#222", background: "transparent", overflow: "visible"},
    marks: [
      Plot.line(rows, {x: "t", y: "v", z: "site", stroke: "site", strokeWidth: 2.9, strokeLinejoin: "round", clip: true}),
      Plot.frame({stroke: "#222", strokeWidth: 1}),
      // inward ticks on all four sides
      Plot.ruleX(xTicks, {x: d => d, insetTop: ih - 5, stroke: "#222"}),
      Plot.ruleX(xTicks, {x: d => d, insetBottom: ih - 5, stroke: "#222"}),
      Plot.ruleY(p.yTicks, {y: d => d, insetRight: iw - 5, stroke: "#222"}),
      Plot.ruleY(p.yTicks, {y: d => d, insetLeft: iw - 5, stroke: "#222"}),
      Plot.axisX(xTicks, {anchor: "bottom", tickSize: 0, tickPadding: 4, tickFormat: fmt1, label: null}),
      Plot.axisY(p.yTicks, {anchor: "left", tickSize: 0, tickPadding: 3, tickFormat: p.fmt, label: null}),
      Plot.text(["Population"], {frameAnchor: "top", lineAnchor: "bottom", dy: -6, fontSize: 23.5, fill: "#222"}),
      Plot.text([p.offset], {frameAnchor: "top-left", textAnchor: "start", lineAnchor: "bottom", dy: -3, dx: 1, fontSize: 13, fill: "#222"}),
      Plot.text(["Time (ps)"], {frameAnchor: "bottom", lineAnchor: "middle", dy: 32, fontSize: 17, fill: "#222"}),
      Plot.text(["Population(Imaginary Part)"], {frameAnchor: "left", textAnchor: "middle", lineAnchor: "middle", rotate: -90, dx: -p.ylab, fontSize: 19, fill: "#222"})
    ]
  });
  chart.classList.add("panel");
  chart.style.left = p.left + "px";
  chart.style.top = p.top + "px";
  page.appendChild(chart);

  // legend box, inset 8px from the top-right corner of the axes
  const lg = document.createElement("div");
  lg.className = "legend";
  const lw = 103, lh = 164;
  lg.style.width = lw + "px";
  lg.style.height = lh + "px";
  lg.style.left = (p.left + W - p.mR - 8 - lw) + "px";
  lg.style.top = (p.top + p.mT + 8) + "px";
  sites.forEach((s, i) => {
    const r = document.createElement("div");
    r.className = "row";
    r.style.top = (2 + i * 23) + "px";
    const sw = document.createElement("div");
    sw.className = "sw";
    sw.style.background = colors[i];
    const lb = document.createElement("div");
    lb.className = "lb";
    lb.textContent = s;
    r.appendChild(sw); r.appendChild(lb);
    lg.appendChild(r);
  });
  page.appendChild(lg);

  const cap = document.createElement("div");
  cap.className = "caption";
  cap.textContent = p.cap;
  cap.style.left = (p.left + p.mL + iw / 2) + "px";
  cap.style.top = p.capY + "px";
  page.appendChild(cap);
}
</script></body></html>
